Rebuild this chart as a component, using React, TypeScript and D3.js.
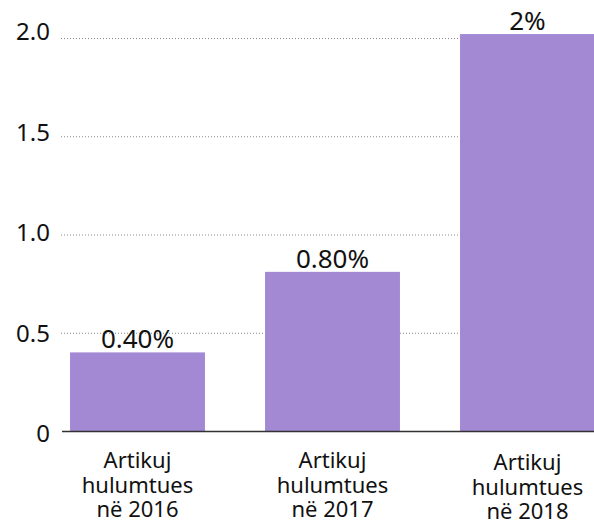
import React from 'react';
import * as d3 from 'd3';

const categories = [
  ['Artikuj', 'hulumtues', 'në 2016'],
  ['Artikuj', 'hulumtues', 'në 2017'],
  ['Artikuj', 'hulumtues', 'në 2018'],
];
const values = [0.4, 0.81, 2.02];
const valueLabels = ['0.40%', '0.80%', '2%'];
const yTicks = [0, 0.5, 1.0, 1.5, 2.0];
const yTickLabels = ['0', '0.5', '1.0', '1.5', '2.0'];

const W = 594;
const H = 520;
const FONT = '"Noto Sans", "Open Sans", sans-serif';

export default function App() {
  const keys = categories.map((c) => c.join(' '));

  const x = d3.scaleBand<string>()
    .domain(keys)
    .range([40, 625])
    .paddingInner(0.308)
    .paddingOuter(0.154);

  const y = d3.scaleLinear().domain([0, 2]).range([431, 38]);
  // tick labels sit slightly off the gridlines in the original
  const yLab = d3.scaleLinear().domain([0, 2]).range([432.5, 30.5]);

  return (
    <svg width={W} height={H} style={{ position: 'absolute', left: 0, top: 0, background: '#fff' }} fontFamily={FONT}>
      {yTicks.filter((t) => t > 0).map((t) => (
        <line key={t} x1={61} x2={W} y1={y(t) + 0.5} y2={y(t) + 0.5}
          stroke="#8a8a8a" strokeWidth={1} strokeDasharray="1,2" />
      ))}
      {yTicks.map((t, i) => (
        <text key={t} x={50} y={yLab(t)} textAnchor="end" dominantBaseline="central"
          fontSize={24} fill="#111">{yTickLabels[i]}</text>
      ))}
      {values.map((v, i) => (
        <rect key={keys[i]} x={x(keys[i])} y={y(v)} width={x.bandwidth()} height={y(0) - y(v)} fill="#a389d4" />
      ))}
      <line x1={62} x2={W} y1={y(0) + 0.5} y2={y(0) + 0.5} stroke="#333" strokeWidth={1.5} />
      {values.map((v, i) => (
        <text key={'v' + i} x={(x(keys[i]) as number) + x.bandwidth() / 2} y={y(v) - 4}
          textAnchor="middle" fontSize={26} fill="#111">{valueLabels[i]}</text>
      ))}
      {categories.map((lines, i) => (
        <text key={'c' + i} x={(x(keys[i]) as number) + x.bandwidth() / 2} y={y(0) + 37 + (i === 2 ? 2 : 0)}
          textAnchor="middle" fontSize={22} fill="#111">
          {lines.map((l, j) => (
            <tspan key={j} x={(x(keys[i]) as number) + x.bandwidth() / 2} dy={j === 0 ? 0 : 24.5}>{l}</tspan>
          ))}
        </text>
      ))}
    </svg>
  );
}
